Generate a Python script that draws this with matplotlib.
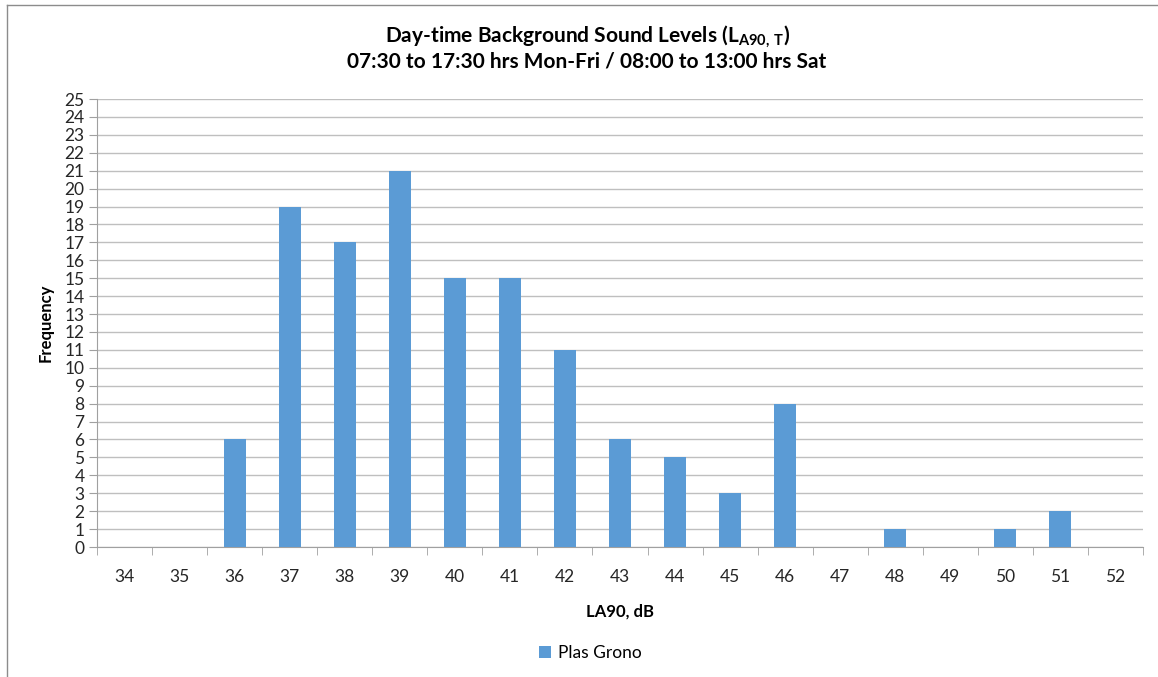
import numpy as np
import matplotlib
matplotlib.use("Agg")
import matplotlib.pyplot as plt
from matplotlib.lines import Line2D

# data
levels = [34, 35, 36, 37, 38, 39, 40, 41, 42, 43, 44, 45, 46, 47, 48, 49, 50, 51, 52]
counts = [0, 0, 6, 19, 17, 21, 15, 15, 11, 6, 5, 3, 8, 0, 1, 0, 1, 2, 0]
series_name = "Plas Grono"

bar_color = "#5B9BD5"
grid_color = "#BFBFBF"
axis_color = "#A0A0A0"

plt.rcParams['font.family'] = ['Lato', 'DejaVu Sans']
plt.rcParams['mathtext.fontset'] = 'custom'
plt.rcParams['mathtext.bf'] = 'Lato:bold'
plt.rcParams['mathtext.rm'] = 'Lato'

fig = plt.figure(figsize=(11.58, 6.77), dpi=100)
ax = fig.add_axes([97 / 1158, 1 - 547 / 677, 1046 / 1158, 448 / 677])

x = np.arange(len(levels))
ax.bar(x, counts, width=0.4, color=bar_color, label=series_name, zorder=3)

ax.set_xlim(-0.5, len(levels) - 0.5)
ax.set_ylim(0, 25)
ax.set_yticks(range(0, 26))
ax.set_xticks(x)
ax.set_xticklabels([str(v) for v in levels])
ax.set_xticks(np.arange(-0.5, len(levels)), minor=True)

ax.yaxis.grid(True, color=grid_color, linewidth=1, zorder=0)
for s in ['top', 'right']:
    ax.spines[s].set_visible(False)
ax.spines['left'].set_color(axis_color)
ax.spines['bottom'].set_color(axis_color)

ax.tick_params(axis='x', which='major', length=0, pad=16, labelsize=12.5, colors='#262626')
ax.tick_params(axis='x', which='minor', length=6, color=axis_color)
ax.tick_params(axis='y', length=6, color=axis_color, labelsize=12.5, labelcolor='#262626', pad=3)

ax.set_xlabel("LA90, dB", fontsize=12, fontweight='bold', labelpad=13)
ax.set_ylabel("Frequency", fontsize=12, fontweight='bold', labelpad=8)

fig.text(0.507, 1 - 36 / 677, r"Day-time Background Sound Levels ($\mathbf{L_{A90,\,T}}$)",
         ha='center', va='center', fontsize=15, fontweight='bold')
fig.text(0.507, 1 - 62 / 677, "07:30 to 17:30 hrs Mon-Fri / 08:00 to 13:00 hrs Sat",
         ha='center', va='center', fontsize=15, fontweight='bold')

fig.legend(loc='center', bbox_to_anchor=(0.51, 1 - 653 / 677), frameon=False,
           fontsize=12.5, handlelength=0.7, handleheight=0.7, handletextpad=0.4)

# chart border (top and left visible)
fig.add_artist(Line2D([7 / 1158, 7 / 1158], [0, 1 - 5 / 677], transform=fig.transFigure,
                      color='#8C8C8C', linewidth=1))
fig.add_artist(Line2D([7 / 1158, 1], [1 - 5 / 677, 1 - 5 / 677], transform=fig.transFigure,
                      color='#8C8C8C', linewidth=1))

fig.savefig("out.png", dpi=100)
